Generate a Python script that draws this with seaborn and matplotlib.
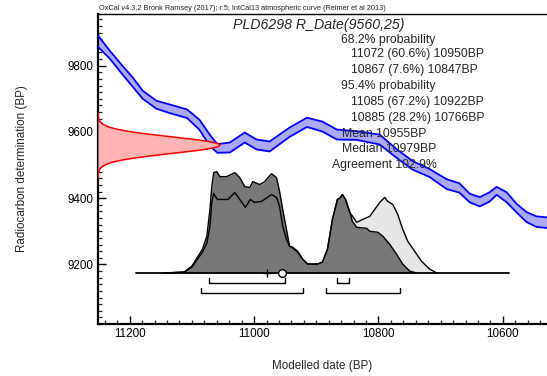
import numpy as np
import pandas as pd
import matplotlib
matplotlib.use("Agg")
import matplotlib.pyplot as plt
import seaborn as sns
from matplotlib.ticker import MultipleLocator

# ---------------- data ----------------
curve_cal = [11251, 11232, 11211, 11195, 11179, 11157, 11136, 11108, 11088, 11071,
             11059, 11039, 11015, 10996, 10975, 10943, 10915, 10890, 10867, 10835,
             10798, 10771, 10745, 10718, 10690, 10670, 10653, 10637, 10621, 10610,
             10594, 10578, 10562, 10546, 10529]
curve_bp = [9874, 9833, 9785, 9750, 9712, 9682, 9670, 9655, 9622, 9574,
            9550, 9553, 9583, 9562, 9556, 9599, 9629, 9616, 9592, 9589,
            9577, 9535, 9499, 9476, 9442, 9431, 9400, 9389, 9404, 9422,
            9403, 9370, 9343, 9329, 9326]
curve_sigma = [17, 12, 13, 14, 12, 12, 13, 13, 15, 17,
               13, 15, 15, 15, 15, 14, 14, 15, 15, 13,
               15, 13, 13, 12, 15, 14, 13, 14, 14, 12,
               15, 13, 15, 16, 16]

r_date = 9560
r_error = 25

posterior_cal = [11144, 11112, 11100, 11091, 11083, 11076, 11071, 11068, 11065, 11060,
                 11055, 11044, 11031, 11023, 11015, 11007, 11002, 10991, 10983, 10972,
                 10964, 10959, 10954, 10948, 10943, 10938, 10930, 10922, 10914, 10898,
                 10890, 10882, 10874, 10866, 10861, 10858, 10853, 10846, 10842, 10835,
                 10819, 10814, 10801, 10793, 10782, 10771, 10761, 10750, 10739]
posterior_density = [0, 1, 7, 16, 24, 37, 64, 87, 101, 102,
                     97, 97, 101, 96, 87, 86, 92, 89, 92, 100,
                     96, 82, 64, 44, 27, 26, 22, 14, 9, 9,
                     11, 24, 54, 74, 76, 79, 74, 61, 52, 46,
                     45, 42, 41, 37, 29, 19, 9, 2, 0]

likelihood_cal = [11144, 11112, 11100, 11091, 11083, 11076, 11071, 11068, 11065, 11059,
                  11042, 11031, 11023, 11014, 11006, 10999, 10988, 10972, 10964, 10959,
                  10954, 10948, 10943, 10938, 10930, 10922, 10914, 10898, 10890, 10882,
                  10874, 10866, 10861, 10858, 10853, 10846, 10835, 10825, 10814, 10806,
                  10798, 10790, 10785, 10777, 10769, 10761, 10753, 10742, 10731, 10718,
                  10706]
likelihood_density = [0, 1, 6, 14, 21, 30, 47, 71, 80, 74,
                      74, 81, 74, 66, 74, 71, 72, 79, 76, 67,
                      47, 34, 27, 25, 21, 14, 9, 9, 11, 24,
                      54, 74, 76, 79, 74, 61, 51, 54, 57, 64,
                      71, 76, 72, 69, 59, 44, 32, 22, 12, 4,
                      0]

range_start, range_end = 11190, 10590
mean_date = 10955
median_date = 10979
ranges_68 = [(11072, 10950), (10867, 10847)]
ranges_95 = [(11085, 10922), (10885, 10766)]

header = "OxCal v4.3.2 Bronk Ramsey (2017); r:5; IntCal13 atmospheric curve (Reimer et al 2013)"
title = "PLD6298 R_Date(9560,25)"
summary_lines = [
    ("68.2% probability", 340.7, 40.0),
    ("11072 (60.6%) 10950BP", 350.7, 54.5),
    ("10867 (7.6%) 10847BP", 350.7, 70.5),
    ("95.4% probability", 340.7, 86.5),
    ("11085 (67.2%) 10922BP", 350.7, 101.7),
    ("10885 (28.2%) 10766BP", 350.7, 117.7),
    ("Mean 10955BP", 341.7, 134.0),
    ("Median 10979BP", 341.7, 149.3),
    ("Agreement 102.9%", 332.0, 165.3),
]

x_ticks = [11200, 11000, 10800, 10600]
y_ticks = [9200, 9400, 9600, 9800]

# ---------------- style ----------------
sns.set_style("white")
plt.rcParams['font.family'] = ['Liberation Sans', 'DejaVu Sans']

W, H = 547, 376
fig = plt.figure(figsize=(W / 100, H / 100), dpi=100)
ax = fig.add_axes([98 / W, 52 / H, 449 / W, 310 / H])
ax.set_xlim(11251, 10529)
ax.set_ylim(9020, 9956)

# calibration curve
cdf = pd.DataFrame({"cal": curve_cal, "bp": curve_bp, "sig": curve_sigma})
cdf["hi"] = cdf["bp"] + cdf["sig"]
cdf["lo"] = cdf["bp"] - cdf["sig"]
ax.fill_between(cdf["cal"], cdf["lo"], cdf["hi"], color="#aaaaf9", lw=0, zorder=2)
sns.lineplot(data=cdf, x="cal", y="hi", color="#0000ff", lw=1.3, sort=False, ax=ax, zorder=3)
sns.lineplot(data=cdf, x="cal", y="lo", color="#0000ff", lw=1.3, sort=False, ax=ax, zorder=3)

# radiocarbon date gaussian on the y axis
gy = np.linspace(r_date - 4 * r_error, r_date + 4 * r_error, 200)
amp = 196.0
gx = 11251 - amp * np.exp(-0.5 * ((gy - r_date) / r_error) ** 2)
ax.fill_betweenx(gy, 11251, gx, color="#ffb3b3", lw=0, zorder=4)
ax.plot(gx, gy, color="#ff0000", lw=1.1, zorder=5)

# distributions
base = 9174
scale = 3.0
ldf = pd.DataFrame({"cal": likelihood_cal, "y": base + scale * np.array(likelihood_density)})
pdf_ = pd.DataFrame({"cal": posterior_cal, "y": base + scale * np.array(posterior_density)})
ax.fill_between(ldf["cal"], base, ldf["y"], color="#e6e6e6", lw=0, zorder=6)
ax.fill_between(pdf_["cal"], base, pdf_["y"], color="#777777", lw=0, zorder=7)
sns.lineplot(data=ldf, x="cal", y="y", color="black", lw=1.0, sort=False, ax=ax, zorder=8)
sns.lineplot(data=pdf_, x="cal", y="y", color="black", lw=1.0, sort=False, ax=ax, zorder=8)

ax.plot([range_start, range_end], [base, base], color="black", lw=1.3, zorder=9)
ax.plot([median_date], [base], marker="+", ms=6, mew=1.0, color="black", zorder=10, ls="none")
ax.plot([mean_date], [base], marker="o", ms=5.5, mew=1.0, mfc="white", mec="black",
        zorder=11, ls="none")

for (a, b) in ranges_68:
    ax.plot([a, a, b, b], [9159, 9144, 9144, 9159], color="black", lw=1.0, zorder=9)
for (a, b) in ranges_95:
    ax.plot([a, a, b, b], [9129, 9114, 9114, 9129], color="black", lw=1.0, zorder=9)

# axes styling
ax.set_xticks(x_ticks)
ax.set_yticks(y_ticks)
ax.xaxis.set_minor_locator(MultipleLocator(20))
ax.yaxis.set_minor_locator(MultipleLocator(20))
ax.tick_params(which="major", direction="in", length=5.5, width=1.0, labelsize=8.4,
               colors="black", pad=3, bottom=True, left=True)
ax.tick_params(which="minor", direction="in", length=2.8, width=0.9, bottom=True, left=True)
for s in ["left", "bottom"]:
    ax.spines[s].set_linewidth(1.6)
    ax.spines[s].set_color("black")
ax.spines["top"].set_linewidth(1.0)
ax.spines["top"].set_color("black")
ax.spines["right"].set_visible(False)

ax.set_xlabel("Modelled date (BP)", fontsize=8.4)
ax.set_ylabel("Radiocarbon determination (BP)", fontsize=8.4)
ax.xaxis.set_label_coords(0.5, (324 - 366.5) / 310, transform=ax.transAxes)
ax.yaxis.set_label_coords((22 - 98) / 449, 0.5, transform=ax.transAxes)
ax.xaxis.label.set_va("center")
ax.yaxis.label.set_va("center")

# texts
fig.text(99 / W, 1 - 8 / H, header, fontsize=5.3, ha="left", va="center", color="#222222")
fig.text(319 / W, 1 - 25 / H, title, fontsize=10.2, style="italic", ha="center", va="center")
for txt, xx, yy in summary_lines:
    fig.text(xx / W, 1 - yy / H, txt, fontsize=8.8, ha="left", va="center", zorder=20)

fig.savefig("out.png", dpi=100)
